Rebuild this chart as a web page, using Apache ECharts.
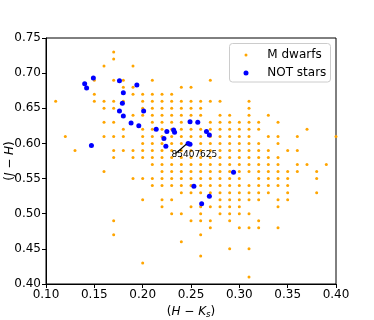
<!DOCTYPE html>
<html>
<head>
<meta charset="utf-8">
<script src="https://cdn.jsdelivr.net/npm/echarts@6/dist/echarts.min.js"></script>
<style>
  html, body { margin: 0; padding: 0; background: #fff; }
  #main { width: 374px; height: 320px; }
</style>
</head>
<body>
<div id="main"></div>
<script>
// M dwarfs sit on a 0.01 grid: each row is [J-H, list of H-Ks in hundredths]
let dwarfRows = [
  [0.73, [17]],
  [0.72, [17]],
  [0.71, [16, 19]],
  [0.69, [15, 17, 18, 21, 27]],
  [0.68, [18, 19, 24, 25]],
  [0.67, [15, 19, 20, 21, 22, 23]],
  [0.66, [11, 15, 16, 17, 18, 20, 21, 22, 23, 24, 25, 26, 27, 28, 31]],
  [0.65, [16, 17, 20, 21, 22, 23, 24, 25, 26, 31]],
  [0.64, [19, 20, 21, 22, 23, 24, 25, 26, 28, 29, 31, 33]],
  [0.63, [16, 17, 21, 22, 23, 24, 27, 28, 29, 30, 31, 32, 34]],
  [0.62, [18, 20, 21, 22, 23, 24, 25, 26, 27, 28, 29, 30, 31, 32, 37]],
  [0.61, [12, 16, 17, 18, 20, 21, 22, 23, 24, 25, 26, 27, 28, 29, 30, 31, 33, 34, 36, 40]],
  [0.60, [20, 21, 22, 23, 24, 26, 27, 28, 29, 30, 31, 32, 34]],
  [0.59, [13, 17, 18, 19, 20, 21, 22, 23, 24, 25, 26, 27, 28, 29, 30, 31, 32, 33, 35, 36]],
  [0.58, [17, 19, 20, 21, 22, 23, 24, 25, 26, 27, 28, 29, 30, 31, 32, 33, 34]],
  [0.57, [21, 22, 23, 24, 25, 26, 27, 28, 29, 30, 31, 32, 33, 34, 36, 37, 39]],
  [0.56, [16, 22, 23, 24, 25, 26, 27, 28, 29, 30, 31, 32, 33, 34, 35, 36, 38]],
  [0.55, [19, 20, 21, 22, 23, 24, 25, 26, 27, 28, 29, 30, 32, 33, 34, 35, 38]],
  [0.54, [21, 22, 23, 24, 25, 26, 27, 28, 29, 30, 31, 32, 33, 34, 35]],
  [0.53, [24, 25, 26, 27, 28, 29, 30, 31, 32, 33, 35, 38]],
  [0.52, [20, 22, 23, 28, 29, 30, 31, 32, 34, 35]],
  [0.51, [22, 25, 26, 27, 28, 29, 30, 34]],
  [0.50, [23, 24, 26, 28, 29, 30, 31]],
  [0.49, [17, 25, 26, 27, 29, 32]],
  [0.48, [27, 30, 31, 32, 34]],
  [0.47, [17, 26]],
  [0.46, [24]],
  [0.45, [29, 31]],
  [0.44, [26]],
  [0.43, [20]],
  [0.41, [31]]
];

// NOT stars
let notHK = [0.140, 0.142, 0.149, 0.176, 0.180, 0.194, 0.179, 0.176, 0.180, 0.201,
             0.188, 0.196, 0.214, 0.222, 0.225, 0.232, 0.233, 0.224, 0.247, 0.249,
             0.147, 0.249, 0.257, 0.266, 0.269, 0.294, 0.253, 0.269, 0.261];
let notJH = [0.685, 0.679, 0.693, 0.689, 0.672, 0.683, 0.657, 0.646, 0.639, 0.646,
             0.629, 0.625, 0.620, 0.607, 0.617, 0.619, 0.616, 0.596, 0.600, 0.599,
             0.597, 0.631, 0.630, 0.617, 0.612, 0.559, 0.539, 0.525, 0.514];

// annotation
let annotLabel = '85407625';
let annotTextAt = [0.2535, 0.5847];
let annotFrom = [0.2342, 0.5857];
let annotTo = [0.2452, 0.599];

let font = 'DejaVu Sans';

let dwarfData = [];
dwarfRows.forEach(function (row) {
  row[1].forEach(function (h) {
    dwarfData.push([h / 100, row[0]]);
  });
});
let notData = notHK.map(function (x, i) { return [x, notJH[i]]; });

let myChart = echarts.init(document.getElementById('main'), null, { renderer: 'canvas' });

let mathRich = {
  r: { fontFamily: font, fontSize: 12, color: '#000', lineHeight: 14, verticalAlign: 'middle' },
  i: { fontFamily: font, fontSize: 12, fontStyle: 'italic', color: '#000', lineHeight: 14, verticalAlign: 'middle' },
  s: { fontFamily: font, fontSize: 8.5, fontStyle: 'italic', color: '#000', lineHeight: 8, verticalAlign: 'bottom' }
};

let option = {
  animation: false,
  backgroundColor: '#fff',
  grid: {
    left: 46, right: 38, top: 38, bottom: 36,
    outerBoundsMode: 'none',
    containLabel: false,
    show: true, borderColor: '#000', borderWidth: 1
  },
  xAxis: {
    type: 'value',
    min: 0.10, max: 0.40, interval: 0.05,
    name: '{r|(}{i|H}{r| − }{i|K}{s|s}{r|)}',
    nameLocation: 'middle',
    nameGap: 15,
    nameTextStyle: { rich: mathRich },
    axisLine: { show: true, onZero: false, lineStyle: { color: '#000', width: 1 } },
    axisTick: { show: true, inside: false, length: 4, lineStyle: { color: '#000' } },
    axisLabel: {
      margin: 5, fontFamily: font, fontSize: 12, color: '#000',
      formatter: function (v) { return v.toFixed(2); }
    },
    splitLine: { show: false }
  },
  yAxis: {
    type: 'value',
    min: 0.40, max: 0.75, interval: 0.05,
    axisLine: { show: true, onZero: false, lineStyle: { color: '#000', width: 1 } },
    axisTick: { show: true, inside: false, length: 4, lineStyle: { color: '#000' } },
    axisLabel: {
      margin: 5, fontFamily: font, fontSize: 12, color: '#000',
      formatter: function (v) { return v.toFixed(2); }
    },
    splitLine: { show: false }
  },
  legend: [
    {
      data: ['M dwarfs'], left: 244.5, top: 49, padding: 0,
      icon: 'circle', itemWidth: 3, itemHeight: 3,
      selectedMode: false,
      textStyle: { fontFamily: font, fontSize: 12, color: '#000', padding: [0, 0, 0, 14.8] }
    },
    {
      data: ['NOT stars'], left: 243.5, top: 67, padding: 0,
      icon: 'circle', itemWidth: 5, itemHeight: 5,
      selectedMode: false,
      textStyle: { fontFamily: font, fontSize: 12, color: '#000', padding: [0, 0, 0, 13.8] }
    }
  ],
  graphic: [
    {
      type: 'rect', z: 3,
      shape: { x: 229.5, y: 43.5, width: 101, height: 38.5, r: 3 },
      style: { fill: 'rgba(255,255,255,0.8)', stroke: '#cccccc', lineWidth: 1 }
    },
    {
      // y-axis title
      type: 'text', z: 5,
      x: 10, y: 161, rotation: Math.PI / 2,
      style: {
        text: '{r|(}{i|J}{r| − }{i|H}{r|)}',
        rich: mathRich,
        align: 'center', verticalAlign: 'middle'
      }
    }
  ],
  series: [
    {
      name: 'M dwarfs',
      type: 'scatter',
      symbol: 'circle',
      symbolSize: 3,
      itemStyle: { color: '#FFA500', opacity: 1 },
      data: dwarfData
    },
    {
      name: 'NOT stars',
      type: 'scatter',
      symbol: 'circle',
      symbolSize: 5,
      itemStyle: { color: '#0000FF', opacity: 1 },
      data: notData,
      markLine: {
        silent: true,
        symbol: ['none', 'none'],
        label: { show: false },
        lineStyle: { color: '#000', width: 1.3, type: 'solid' },
        data: [[{ coord: annotFrom }, { coord: annotTo }]]
      },
      markPoint: {
        silent: true,
        symbol: 'circle',
        symbolSize: 0,
        label: {
          show: true, position: 'inside', formatter: annotLabel,
          fontFamily: font, fontSize: 9, color: '#000'
        },
        data: [{ coord: annotTextAt }]
      }
    }
  ]
};

myChart.setOption(option);
</script>
</body>
</html>
